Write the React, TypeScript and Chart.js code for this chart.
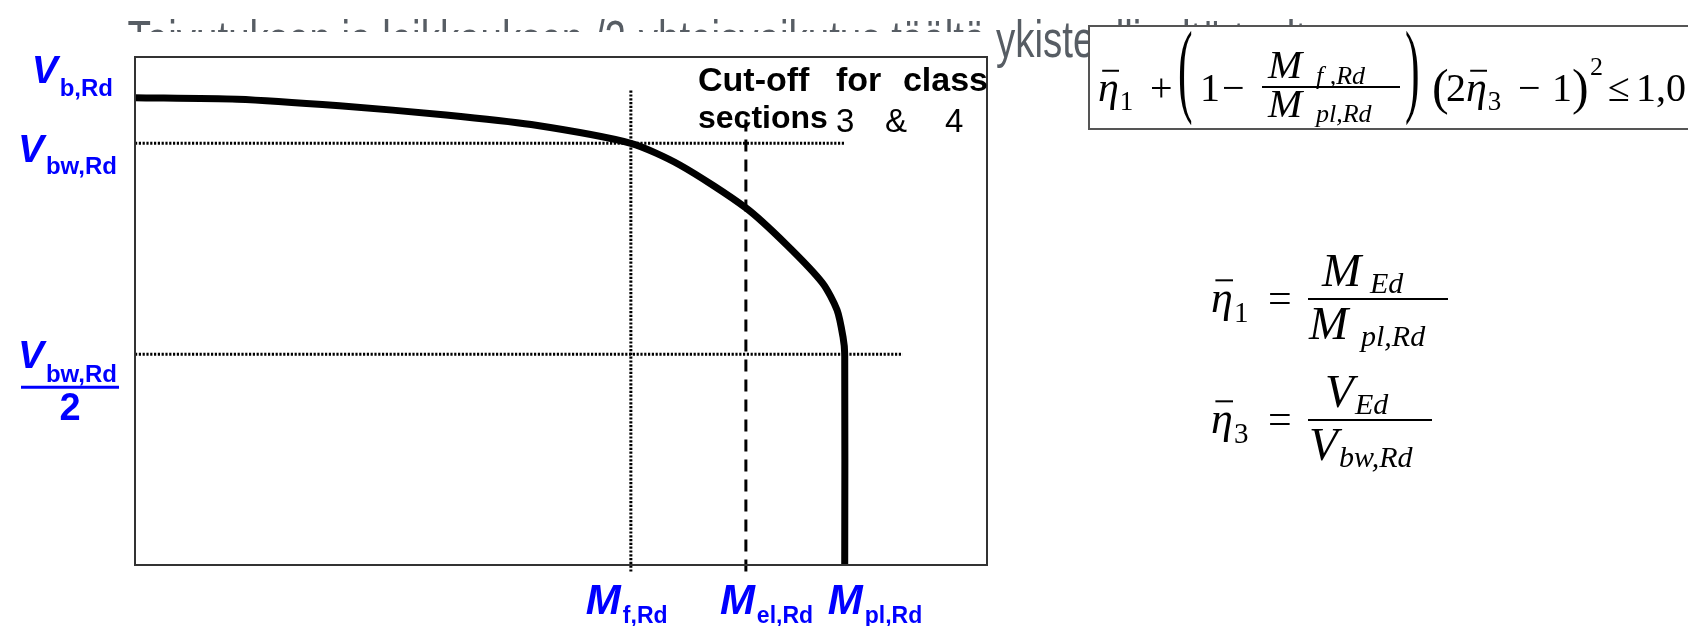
import { useEffect, useRef } from "react";
import { Chart, registerables } from "chart.js";

Chart.register(...registerables);

const SANS = '"Liberation Sans", Arial, Helvetica, sans-serif';
const SERIF = '"Liberation Serif", "Times New Roman", Times, serif';
const BLUE = "#0000ff";
const GREY = "#575d64";

const TITLE_LEAD = "Taivutuksen ja leikkauksen /2-yhteisvaikutus täältä ";
const TITLE_TAIL = "ykisteellisaltä tuolta";

// M–V interaction curve (bending moment M, shear V), normalised units
const curveM = [0, 12, 24, 36.5, 46.5, 58.2, 64, 71.7, 76.5, 80.7, 82.4, 83.1, 83.3, 83.3];
const curveV = [92, 91.7, 90.4, 88.6, 86.7, 83, 78.7, 70.3, 63, 55.5, 50.2, 44.9, 41.5, 0];

// Characteristic resistances on the two axes
const shearLevels = [92, 83, 41.5]; // V_b,Rd, V_bw,Rd, V_bw,Rd / 2
const momentLevels = [58.2, 71.7, 83.3]; // M_f,Rd, M_el,Rd, M_pl,Rd
const momentSubs = ["f,Rd", "el,Rd", "pl,Rd"];

// Extents of the guide lines
const guideMfSpan = [-1.3, 93.5];
const guideMelSpan = [-1.3, 89];
const guideHalfEnd = 90.1;

type Ctx = CanvasRenderingContext2D;

function txt(ctx: Ctx, s: string, x: number, y: number, font: string, color = "#000", align: CanvasTextAlign = "left") {
  ctx.font = font;
  ctx.fillStyle = color;
  ctx.textAlign = align;
  ctx.textBaseline = "alphabetic";
  ctx.fillText(s, x, y);
}

function hline(ctx: Ctx, x1: number, x2: number, y: number, w: number, color = "#000") {
  ctx.strokeStyle = color;
  ctx.lineWidth = w;
  ctx.setLineDash([]);
  ctx.beginPath();
  ctx.moveTo(x1, y);
  ctx.lineTo(x2, y);
  ctx.stroke();
}

// tall thin delimiter drawn from a stretched glyph
function bigParen(ctx: Ctx, s: string, x: number, top: number, bottom: number) {
  const size = (bottom - top) / 0.92;
  ctx.save();
  ctx.translate(x, bottom - 0.22 * size);
  ctx.scale(0.42, 1);
  txt(ctx, s, 0, 0, `${size}px ${SERIF}`);
  ctx.restore();
}

function eta(ctx: Ctx, x: number, base: number, idx: string, size = 42) {
  txt(ctx, "η", x, base, `italic ${size}px ${SERIF}`);
  hline(ctx, x + 0.1 * size, x + 0.5 * size, base - 0.72 * size, 2);
  txt(ctx, idx, x + 0.52 * size, base + 0.22 * size, `${Math.round(size * 0.65)}px ${SERIF}`);
}

function symWithSub(ctx: Ctx, main: string, sub: string, x: number, base: number, subDx: number, size = 44, drop = 0.15) {
  txt(ctx, main, x, base, `italic ${size}px ${SERIF}`);
  txt(ctx, sub, x + subDx, base + drop * size, `italic ${Math.round(size * 0.64)}px ${SERIF}`);
}

function drawFormulas(ctx: Ctx) {
  // boxed interaction criterion
  const bx = 1089, by = 26, bb = 129;
  ctx.fillStyle = "#fff";
  ctx.fillRect(bx, by, 1688 - bx + 10, bb - by);
  ctx.strokeStyle = "#555";
  ctx.lineWidth = 2;
  ctx.strokeRect(bx, by, 1688 - bx + 10, bb - by);

  const base = 101;
  const fr = 87;
  eta(ctx, 1098, base, "1");
  txt(ctx, "+", 1150, base, `40px ${SERIF}`);
  bigParen(ctx, "(", 1178, 30, 126);
  txt(ctx, "1", 1200, base, `40px ${SERIF}`);
  txt(ctx, "−", 1222, base, `40px ${SERIF}`);
  hline(ctx, 1262, 1400, fr, 2);
  symWithSub(ctx, "M", "f ,Rd", 1268, fr - 9, 48, 41);
  symWithSub(ctx, "M", "pl,Rd", 1268, fr + 30, 48, 41, 0.12);
  bigParen(ctx, ")", 1405, 30, 126);
  txt(ctx, "(", 1432, base + 3, `50px ${SERIF}`);
  txt(ctx, "2", 1446, base, `40px ${SERIF}`);
  eta(ctx, 1466, base, "3");
  txt(ctx, "−", 1518, base, `40px ${SERIF}`);
  txt(ctx, "1", 1552, base, `40px ${SERIF}`);
  txt(ctx, ")", 1572, base + 3, `50px ${SERIF}`);
  txt(ctx, "2", 1590, base - 26, `26px ${SERIF}`);
  txt(ctx, "≤", 1608, base, `40px ${SERIF}`);
  txt(ctx, "1,0", 1636, base, `40px ${SERIF}`);

  // η1 definition
  const f1 = 299;
  eta(ctx, 1211, f1 + 13, "1", 44);
  txt(ctx, "=", 1268, f1 + 13, `42px ${SERIF}`);
  hline(ctx, 1308, 1448, f1, 2);
  symWithSub(ctx, "M", "Ed", 1322, f1 - 13, 48, 47);
  symWithSub(ctx, "M", "pl,Rd", 1309, f1 + 40, 52, 47);

  // η3 definition
  const f3 = 420;
  eta(ctx, 1211, f3 + 13, "3", 44);
  txt(ctx, "=", 1268, f3 + 13, `42px ${SERIF}`);
  hline(ctx, 1308, 1432, f3, 2);
  symWithSub(ctx, "V", "Ed", 1325, f3 - 13, 30, 47);
  symWithSub(ctx, "V", "bw,Rd", 1309, f3 + 40, 30, 47);
}

function blueLabel(ctx: Ctx, main: string, sub: string, x: number, base: number, mainSize: number, subSize: number, subDrop: number) {
  ctx.font = `italic bold ${mainSize}px ${SANS}`;
  const w = ctx.measureText(main).width;
  txt(ctx, main, x, base, `italic bold ${mainSize}px ${SANS}`, BLUE);
  txt(ctx, sub, x + w + 2, base + subDrop, `bold ${subSize}px ${SANS}`, BLUE);
}

function rightBlueLabel(ctx: Ctx, main: string, sub: string, right: number, base: number, subDrop: number) {
  ctx.font = `italic bold 39px ${SANS}`;
  const w1 = ctx.measureText(main).width;
  ctx.font = `bold 24px ${SANS}`;
  const w2 = ctx.measureText(sub).width;
  blueLabel(ctx, main, sub, right - w1 - w2 - 2, base, 39, 24, subDrop);
}

const decor = {
  id: "decor",
  beforeDraw(chart: Chart) {
    const ctx = chart.ctx;
    ctx.save();
    ctx.fillStyle = "#fff";
    ctx.fillRect(0, 0, chart.width, chart.height);
    // slide heading, partly hidden behind the panels below
    const sx = 0.74;
    const font = `52px ${SANS}`;
    ctx.font = font;
    const lead = ctx.measureText(TITLE_LEAD).width * sx;
    ctx.translate(996 - lead, 57);
    ctx.scale(sx, 1);
    txt(ctx, TITLE_LEAD + TITLE_TAIL, 0, 0, font, GREY);
    ctx.setTransform(1, 0, 0, 1, 0, 0);
    ctx.fillStyle = "#fff";
    ctx.fillRect(0, 32, 993, chart.height);
    ctx.restore();
  },
  afterDraw(chart: Chart) {
    const ctx = chart.ctx;
    const { left, top, right, bottom } = chart.chartArea;
    const xs = chart.scales.x;
    const ys = chart.scales.y;
    ctx.save();
    ctx.strokeStyle = "#333";
    ctx.lineWidth = 2;
    ctx.setLineDash([]);
    ctx.strokeRect(left, top, right - left, bottom - top);

    // shear axis labels
    const yb = ys.getPixelForValue(shearLevels[0]);
    rightBlueLabel(ctx, "V", "b,Rd", 113, yb - 15, 13);
    const ybw = ys.getPixelForValue(shearLevels[1]);
    rightBlueLabel(ctx, "V", "bw,Rd", 117, ybw + 19, 12);
    const yh = ys.getPixelForValue(shearLevels[2]);
    rightBlueLabel(ctx, "V", "bw,Rd", 117, yh + 14, 14);
    hline(ctx, 21, 119, yh + 33, 3, BLUE);
    txt(ctx, "2", 70, yh + 66, `bold 38px ${SANS}`, BLUE, "center");

    // moment axis labels
    const mShift = [-45, -26, -17];
    momentLevels.forEach((m, i) => {
      const px = xs.getPixelForValue(m);
      blueLabel(ctx, "M", momentSubs[i], px + mShift[i], 614, 42, 23, 9);
    });

    // class 3 & 4 note
    const nf = `bold 34px ${SANS}`;
    txt(ctx, "Cut-off", 698, 91, nf);
    txt(ctx, "for", 836, 91, nf);
    txt(ctx, "class", 988, 91, nf, "#000", "right");
    txt(ctx, "sections", 698, 128, `bold 32px ${SANS}`);
    txt(ctx, "3", 836, 132, `33px ${SANS}`);
    txt(ctx, "&", 885, 132, `33px ${SANS}`);
    txt(ctx, "4", 945, 132, `33px ${SANS}`);

    drawFormulas(ctx);
    ctx.restore();
  },
};

export default function App() {
  const ref = useRef<HTMLCanvasElement | null>(null);

  useEffect(() => {
    document.body.style.margin = "0";
    const canvas = ref.current;
    if (!canvas) return;
    const pts = (ms: number[], vs: number[]) => ms.map((m, i) => ({ x: m, y: vs[i] }));
    const dotted = { borderColor: "#000", borderWidth: 3, borderDash: [2.2, 1.6], pointRadius: 0, showLine: true, clip: false as const };
    const chart = new Chart(canvas, {
      type: "scatter",
      data: {
        datasets: [
          {
            data: pts(curveM, curveV),
            borderColor: "#000",
            borderWidth: 7,
            pointRadius: 0,
            showLine: true,
            tension: 0.25,
            borderJoinStyle: "round",
            clip: 4,
          },
          { ...dotted, data: pts([0, momentLevels[2]], [shearLevels[1], shearLevels[1]]) },
          { ...dotted, data: pts([0, guideHalfEnd], [shearLevels[2], shearLevels[2]]) },
          { ...dotted, data: pts([momentLevels[0], momentLevels[0]], guideMfSpan) },
          {
            data: pts([momentLevels[1], momentLevels[1]], guideMelSpan),
            borderColor: "#000",
            borderWidth: 3,
            borderDash: [12, 8],
            pointRadius: 0,
            showLine: true,
            clip: false,
          },
        ],
      },
      options: {
        animation: false,
        responsive: false,
        devicePixelRatio: 1,
        events: [],
        layout: { padding: { left: 135, top: 57, right: 701, bottom: 61 } },
        plugins: { legend: { display: false }, tooltip: { enabled: false } },
        scales: {
          x: { type: "linear", min: 0, max: 100, display: false },
          y: { type: "linear", min: 0, max: 100, display: false },
        },
      },
      plugins: [decor],
    });
    return () => chart.destroy();
  }, []);

  return (
    <div style={{ width: 1688, height: 626, overflow: "hidden", background: "#fff" }}>
      <canvas ref={ref} width={1688} height={626} style={{ display: "block" }} />
    </div>
  );
}
